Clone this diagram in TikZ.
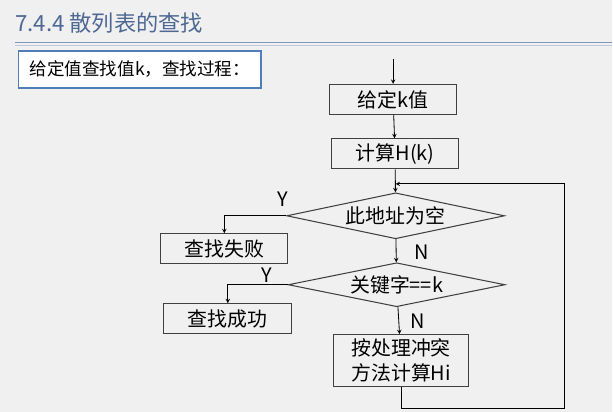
\documentclass[tikz,border=0pt]{standalone}
\usepackage{fontspec}
\setmainfont{Noto Sans CJK SC}
\usepackage{xcolor}
\usetikzlibrary{shapes,arrows,positioning,calc}
\definecolor{pagegray}{RGB}{240,240,240}
\definecolor{titleblue}{RGB}{78,104,148}
\definecolor{ruleblue}{RGB}{128,150,186}
\definecolor{boxblue}{RGB}{79,125,186}

\begin{document}
\begin{tikzpicture}[
    x=0.03cm, y=-0.03cm,
    box/.style={draw=black!75, line width=0.9pt, fill=pagegray, minimum width=3.81cm, minimum height=0.9cm, inner sep=0pt, align=center, font=\fontsize{17}{21}\selectfont},
    decision/.style={diamond, draw=black!75, line width=0.9pt, fill=pagegray, inner sep=0pt, aspect=4.7, font=\fontsize{17}{21}\selectfont},
    tag/.style={font=\fontsize{17}{21}\selectfont, inner sep=0pt},
    arrow/.style={->, line width=0.7pt, >=stealth}
]
    % page
    \fill[pagegray] (0,0) rectangle (613,412);

    % Title
    \node[anchor=base west, text=titleblue, inner sep=0pt, font=\fontsize{19}{23}\selectfont] (title) at (15,32) {7.4.4 散列表的查找};
    \draw[ruleblue, line width=1pt] (15,42.5) -- (613,42.5);
    \draw[ruleblue!50, line width=0.8pt] (15,46) -- (613,46);

    % Intro
    \node[draw=boxblue, line width=1.5pt, fill=white, minimum width=7.29cm, minimum height=1.11cm, inner sep=0pt, font=\fontsize{15}{19}\selectfont] (intro) at (140,69.5) {给定值查找值k，查找过程：};

    % Flow
    \node[box] (givek) at (393.5,99.5) {给定k值};
    \node[box] (hash) at (395.5,154) {计算H(k)};
    \node[decision, minimum width=6.54cm, minimum height=1.38cm] (empty) at (396,216) {此地址为空};
    \node[box] (fail) at (224.5,249) {查找失败};
    \node[decision, minimum width=6.51cm, minimum height=1.32cm] (match) at (397,285) {关键字==k};
    \node[box, minimum width=3.84cm] (found) at (228,319) {查找成功};
    \node[box, minimum width=4.05cm, minimum height=1.56cm] (rehash) at (401.5,361) {按处理冲突\\方法计算Hi};

    % Labels
    \node[tag] (y1) at (283,199) {Y};
    \node[tag] (n1) at (422,252) {N};
    \node[tag] (y2) at (267,275) {Y};
    \node[tag] (n2) at (418,322) {N};

    % Arrows
    \coordinate (start) at (393.5,59);
    \coordinate (entry) at (396,184);
    \coordinate (loopend) at (565,409);
    \draw[arrow] (start) -- (givek);
    \draw[arrow] (givek) -- (hash);
    \draw[arrow] (hash) -- (empty);
    \draw[arrow] (empty.west) -| (fail.north);
    \draw[arrow] (empty) -- (match);
    \draw[arrow] (match.west) -| (found.north);
    \draw[arrow] (match) -- (rehash);
    \draw[arrow] (rehash.south) |- (loopend) |- (entry);
\end{tikzpicture}
\end{document}
